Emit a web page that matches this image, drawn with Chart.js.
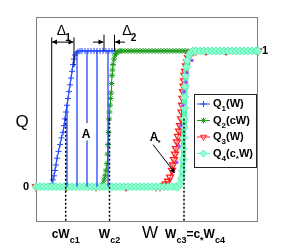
<!DOCTYPE html>
<html>
<head>
<meta charset="utf-8">
<title>Q(W)</title>
<style>
  body { margin: 0; background: #fff; }
  canvas { display: block; }
</style>
</head>
<body>
<canvas id="qChart" width="286" height="250"></canvas>
<script src="https://cdn.jsdelivr.net/npm/chart.js"></script>
<script>
// W in arbitrary units (0..222), Q between 0 and 1
const wQ1 = [0, 6, 12, 15, 16, 17, 18, 19, 20, 21, 22.5, 24, 25.5, 27, 28, 29, 30, 31, 32, 33, 34, 35, 36, 37, 38, 39, 40.5, 42, 44, 46, 49, 52, 55, 58, 61, 64, 67, 70, 73, 76, 79];
const q1  = [0, 0, 0, 0, 0.02, 0.05, 0.08, 0.12, 0.16, 0.21, 0.26, 0.31, 0.36, 0.40, 0.45, 0.50, 0.55, 0.60, 0.65, 0.70, 0.75, 0.80, 0.85, 0.90, 0.94, 0.97, 0.985, 0.995, 1, 1, 1, 1, 1, 1, 1, 1, 1, 1, 1, 1, 1];

const wQ2 = [0, 20, 40, 60, 66, 67, 68, 69, 70, 71, 71.5, 72, 72.5, 73, 73.5, 74, 74.5, 75, 75.5, 76, 76.5, 77, 78, 79, 80.5, 82, 84, 86, 89, 92, 95, 98, 101, 104, 107, 110, 113, 116, 119, 122, 125, 128, 131, 134, 137, 140, 143, 146, 149, 152, 160, 190, 222];
const q2  = [0, 0, 0, 0, 0, 0.02, 0.05, 0.08, 0.12, 0.17, 0.24, 0.31, 0.40, 0.50, 0.55, 0.60, 0.65, 0.69, 0.76, 0.82, 0.86, 0.90, 0.94, 0.97, 0.985, 0.995, 1, 1, 1, 1, 1, 1, 1, 1, 1, 1, 1, 1, 1, 1, 1, 1, 1, 1, 1, 1, 1, 1, 1, 1, 1, 1, 1];

const wQ3 = [0, 30, 60, 90, 120, 124, 128, 130, 132, 134, 136, 137, 138, 139, 140, 141, 142, 143, 144, 145, 145.5, 146, 146.5, 147, 147.5, 148, 148.5, 149, 150, 151, 152, 153, 155, 157, 160, 170, 190, 222];
const q3  = [0, 0, 0, 0, 0, 0, 0.01, 0.02, 0.04, 0.07, 0.12, 0.16, 0.20, 0.24, 0.28, 0.33, 0.37, 0.41, 0.45, 0.50, 0.55, 0.60, 0.65, 0.70, 0.74, 0.78, 0.82, 0.85, 0.89, 0.92, 0.95, 0.97, 0.985, 0.995, 1, 1, 1, 1];

const wQ4 = [0, 4, 8, 12, 16, 20, 24, 28, 32, 36, 40, 44, 48, 52, 56, 60, 64, 68, 72, 76, 80, 84, 88, 92, 96, 100, 104, 108, 112, 116, 120, 124, 128, 132, 136, 140, 142, 144, 145.5, 146.5, 147, 147.3, 147.6, 148, 148.2, 148.5, 148.8, 149.2, 149.7, 150.5, 151.5, 153, 155, 157, 160, 164, 168, 172, 176, 180, 184, 188, 192, 196, 200, 204, 208, 212, 216, 220, 222];
const q4  = [0, 0, 0, 0, 0, 0, 0, 0, 0, 0, 0, 0, 0, 0, 0, 0, 0, 0, 0, 0, 0, 0, 0, 0, 0, 0, 0, 0, 0, 0, 0, 0, 0, 0, 0, 0, 0, 0.02, 0.06, 0.12, 0.20, 0.28, 0.36, 0.44, 0.50, 0.58, 0.66, 0.74, 0.82, 0.88, 0.93, 0.97, 0.99, 1, 1, 1, 1, 1, 1, 1, 1, 1, 1, 1, 1, 1, 1, 1, 1, 1, 1];

// overlap points (purple)
const wMix = [141, 143, 145, 147, 148, 150, 151, 156];
const qMix = [0.18, 0.30, 0.45, 0.60, 0.70, 0.77, 0.84, 0.93];

// vertical hatching of area A
const hatchW    = [31, 41, 51, 51, 61, 72];
const hatchFrom = [0, 0, 0, 0.47, 0, 0];
const hatchTo   = [0.6, 1, 0.34, 1, 1, 1];

const criticalW = [29.7, 73.5, 148];
const tickLabels = ['cW_{c1}', 'W_{c2}', 'W_{c3}=c_{*}W_{c4}'];
const seriesNames = ['Q_{1}(W)', 'Q_{2}(cW)', 'Q_{3}(W)', 'Q_{4}(c_{*}W)'];

const BLUE = '#2448ff', GREEN = '#1f9e1f', RED = '#ff1f1f', AQUA = '#52f7b4', PURPLE = '#a64cff';
const FONT = '"Liberation Sans", Arial, sans-serif';

const pts = (ws, qs) => ws.map((w, i) => ({ x: w, y: qs[i] }));

const hatchData = [];
hatchW.forEach((w, i) => {
  hatchData.push({ x: w, y: hatchFrom[i] }, { x: w, y: hatchTo[i] }, { x: w, y: null });
});

// text with _{...} subscripts
function parts(s) {
  const out = [];
  const re = /_\{([^}]*)\}/g;
  let last = 0, m;
  while ((m = re.exec(s))) {
    if (m.index > last) out.push([s.slice(last, m.index), 0]);
    out.push([m[1], 1]);
    last = re.lastIndex;
  }
  if (last < s.length) out.push([s.slice(last), 0]);
  return out;
}
function drawRich(ctx, s, x, y, size, align) {
  const segs = parts(s);
  const subSize = Math.round(size * 0.72);
  let total = 0;
  segs.forEach(p => {
    ctx.font = 'bold ' + (p[1] ? subSize : size) + 'px ' + FONT;
    total += ctx.measureText(p[0]).width;
  });
  let cx = align === 'center' ? x - total / 2 : x;
  ctx.textBaseline = 'alphabetic';
  ctx.textAlign = 'left';
  segs.forEach(p => {
    ctx.font = 'bold ' + (p[1] ? subSize : size) + 'px ' + FONT;
    ctx.fillText(p[0], cx, p[1] ? y + size * 0.38 : y);
    cx += ctx.measureText(p[0]).width;
  });
}
function arrowHead(ctx, x, y, dir) {
  ctx.beginPath();
  ctx.moveTo(x, y);
  ctx.lineTo(x - dir * 5, y - 2.5);
  ctx.lineTo(x - dir * 5, y + 2.5);
  ctx.closePath();
  ctx.fill();
}
function seg(ctx, x1, y1, x2, y2) {
  ctx.beginPath();
  ctx.moveTo(x1, y1);
  ctx.lineTo(x2, y2);
  ctx.stroke();
}

const decor = {
  id: 'decor',
  beforeDatasetsDraw(chart) {
    const { ctx, chartArea: a } = chart;
    ctx.save();
    ctx.strokeStyle = '#808080';
    ctx.lineWidth = 1;
    ctx.strokeRect(a.left + 0.5, a.top + 0.5, a.right - a.left - 1, a.bottom - a.top - 1);
    ctx.restore();
  },
  afterDatasetsDraw(chart) {
    const { ctx, chartArea: a } = chart;
    const xs = chart.scales.x, ys = chart.scales.y;
    const px = w => xs.getPixelForValue(w), py = q => ys.getPixelForValue(q);
    ctx.save();

    // dotted lines at the critical points
    ctx.strokeStyle = '#000';
    ctx.lineWidth = 1.5;
    ctx.setLineDash([2, 2]);
    criticalW.forEach(w => seg(ctx, px(w), py(0.5), px(w), a.bottom));
    ctx.setLineDash([]);

    // delta markers
    ctx.lineWidth = 1;
    ctx.fillStyle = '#000';
    seg(ctx, px(15.7), py(1.10), px(15.7), py(0.04));
    seg(ctx, px(38), py(1.10), px(38), py(0.88));
    const ya = py(1.065);
    seg(ctx, px(16), ya, px(37.5), ya);
    arrowHead(ctx, px(16), ya, -1);
    arrowHead(ctx, px(37.5), ya, 1);
    seg(ctx, px(68), py(1.12), px(68), py(1.0));
    seg(ctx, px(78.5), py(1.12), px(78.5), py(1.0));
    seg(ctx, px(57), ya, px(67.5), ya);
    arrowHead(ctx, px(67.5), ya, 1);
    seg(ctx, px(89), ya, px(79), ya);
    arrowHead(ctx, px(79), ya, -1);

    ctx.font = '14px ' + FONT;
    ctx.textAlign = 'center';
    ctx.textBaseline = 'alphabetic';
    ctx.fillText('\u0394', px(25.5), py(1.115));
    ctx.fillText('\u0394', px(91), py(1.115));
    ctx.font = 'bold 10px ' + FONT;
    ctx.fillText('1', px(32), py(1.07));
    ctx.fillText('2', px(97.5), py(1.07));

    // area labels
    ctx.font = 'bold 12px ' + FONT;
    ctx.fillText('A', px(50), py(0.36));
    ctx.fillText('A', px(118), py(0.34));
    ctx.font = 'bold 7px ' + FONT;
    ctx.fillText('*', px(123), py(0.31));
    seg(ctx, px(117), py(0.31), px(138), py(0.11));
    ctx.save();
    ctx.translate(px(139), py(0.10));
    ctx.rotate(Math.atan2(py(0.10) - py(0.31), px(139) - px(117)));
    arrowHead(ctx, 0, 0, 1);
    ctx.restore();

    // value labels 0 and 1
    ctx.font = 'bold 11px ' + FONT;
    ctx.textBaseline = 'middle';
    ctx.fillText('0', a.left - 10, py(0));
    ctx.fillText('1', a.right + 7, py(1));

    // axis titles
    ctx.font = '17px ' + FONT;
    ctx.fillText('Q', 22, (a.top + a.bottom) / 2 + 3);
    ctx.fillText('W', (a.left + a.right) / 2 + 3, a.bottom + 11);

    // tick labels under the dotted lines
    const shift = [0, 0, 11];
    criticalW.forEach((w, i) => drawRich(ctx, tickLabels[i], px(w) + shift[i], a.bottom + 16, 12, 'center'));

    // legend
    const lx0 = a.right - 64, ly0 = 94, lx1 = a.right - 1, ly1 = 168;
    ctx.fillStyle = '#fff';
    ctx.fillRect(lx0, ly0, lx1 - lx0, ly1 - ly0);
    ctx.strokeStyle = '#222';
    ctx.lineWidth = 1;
    ctx.strokeRect(lx0 + 0.5, ly0 + 0.5, lx1 - lx0 - 1, ly1 - ly0 - 1);
    const series = chart.data.datasets.filter(d => d.inLegend).sort((p, q) => p.legendRank - q.legendRank);
    series.forEach((d, i) => {
      const y = ly0 + 10 + i * 16.5;
      ctx.strokeStyle = d.borderColor;
      ctx.lineWidth = 1;
      seg(ctx, lx0 + 3, y, lx0 + 16, y);
      ctx.fillStyle = d.pointBackgroundColor || 'rgba(0,0,0,0)';
      Chart.helpers.drawPoint(ctx, {
        pointStyle: d.pointStyle, rotation: d.pointRotation || 0,
        radius: Math.min(d.pointRadius, 3.5), borderWidth: 1
      }, lx0 + 9.5, y);
      ctx.fillStyle = '#000';
      drawRich(ctx, seriesNames[d.legendRank], lx0 + 19, y + 3, 11, 'left');
    });
    ctx.restore();
  }
};

new Chart(document.getElementById('qChart'), {
  type: 'line',
  data: {
    datasets: [
      { data: hatchData, borderColor: BLUE, borderWidth: 1.3, pointRadius: 0, spanGaps: false, clip: false },
      { data: pts(wMix, qMix), showLine: false, pointStyle: 'rect', pointRadius: 1.5,
        pointBackgroundColor: PURPLE, pointBorderColor: PURPLE, clip: false },
      { data: pts(wQ4, q4), borderColor: AQUA, borderWidth: 5, pointStyle: 'rectRot', pointRadius: 4,
        pointBackgroundColor: 'rgba(150,255,210,0.9)', pointBorderColor: AQUA, pointBorderWidth: 1,
        clip: false, inLegend: true, legendRank: 3 },
      { data: pts(wQ3, q3), borderColor: RED, borderWidth: 1, pointStyle: 'triangle', pointRotation: 180,
        pointRadius: 4, pointBackgroundColor: 'rgba(255,255,255,0)', pointBorderColor: RED, pointBorderWidth: 1.3,
        clip: false, inLegend: true, legendRank: 2 },
      { data: pts(wQ2, q2), borderColor: GREEN, borderWidth: 1, pointStyle: 'star', pointRadius: 3,
        pointBorderColor: GREEN, pointBorderWidth: 1, clip: false, inLegend: true, legendRank: 1 },
      { data: pts(wQ1, q1), borderColor: BLUE, borderWidth: 1, pointStyle: 'cross', pointRadius: 3,
        pointBorderColor: BLUE, pointBorderWidth: 1, clip: false, inLegend: true, legendRank: 0 }
    ]
  },
  options: {
    responsive: false,
    animation: false,
    devicePixelRatio: 1,
    layout: { padding: { left: 36, right: 28, top: 17, bottom: 28 } },
    elements: { line: { tension: 0 } },
    scales: {
      x: { type: 'linear', min: 0, max: 222, display: false },
      y: { type: 'linear', min: -0.26, max: 1.25, display: false }
    },
    plugins: { legend: { display: false }, tooltip: { enabled: false } }
  },
  plugins: [decor]
});
</script>
</body>
</html>
